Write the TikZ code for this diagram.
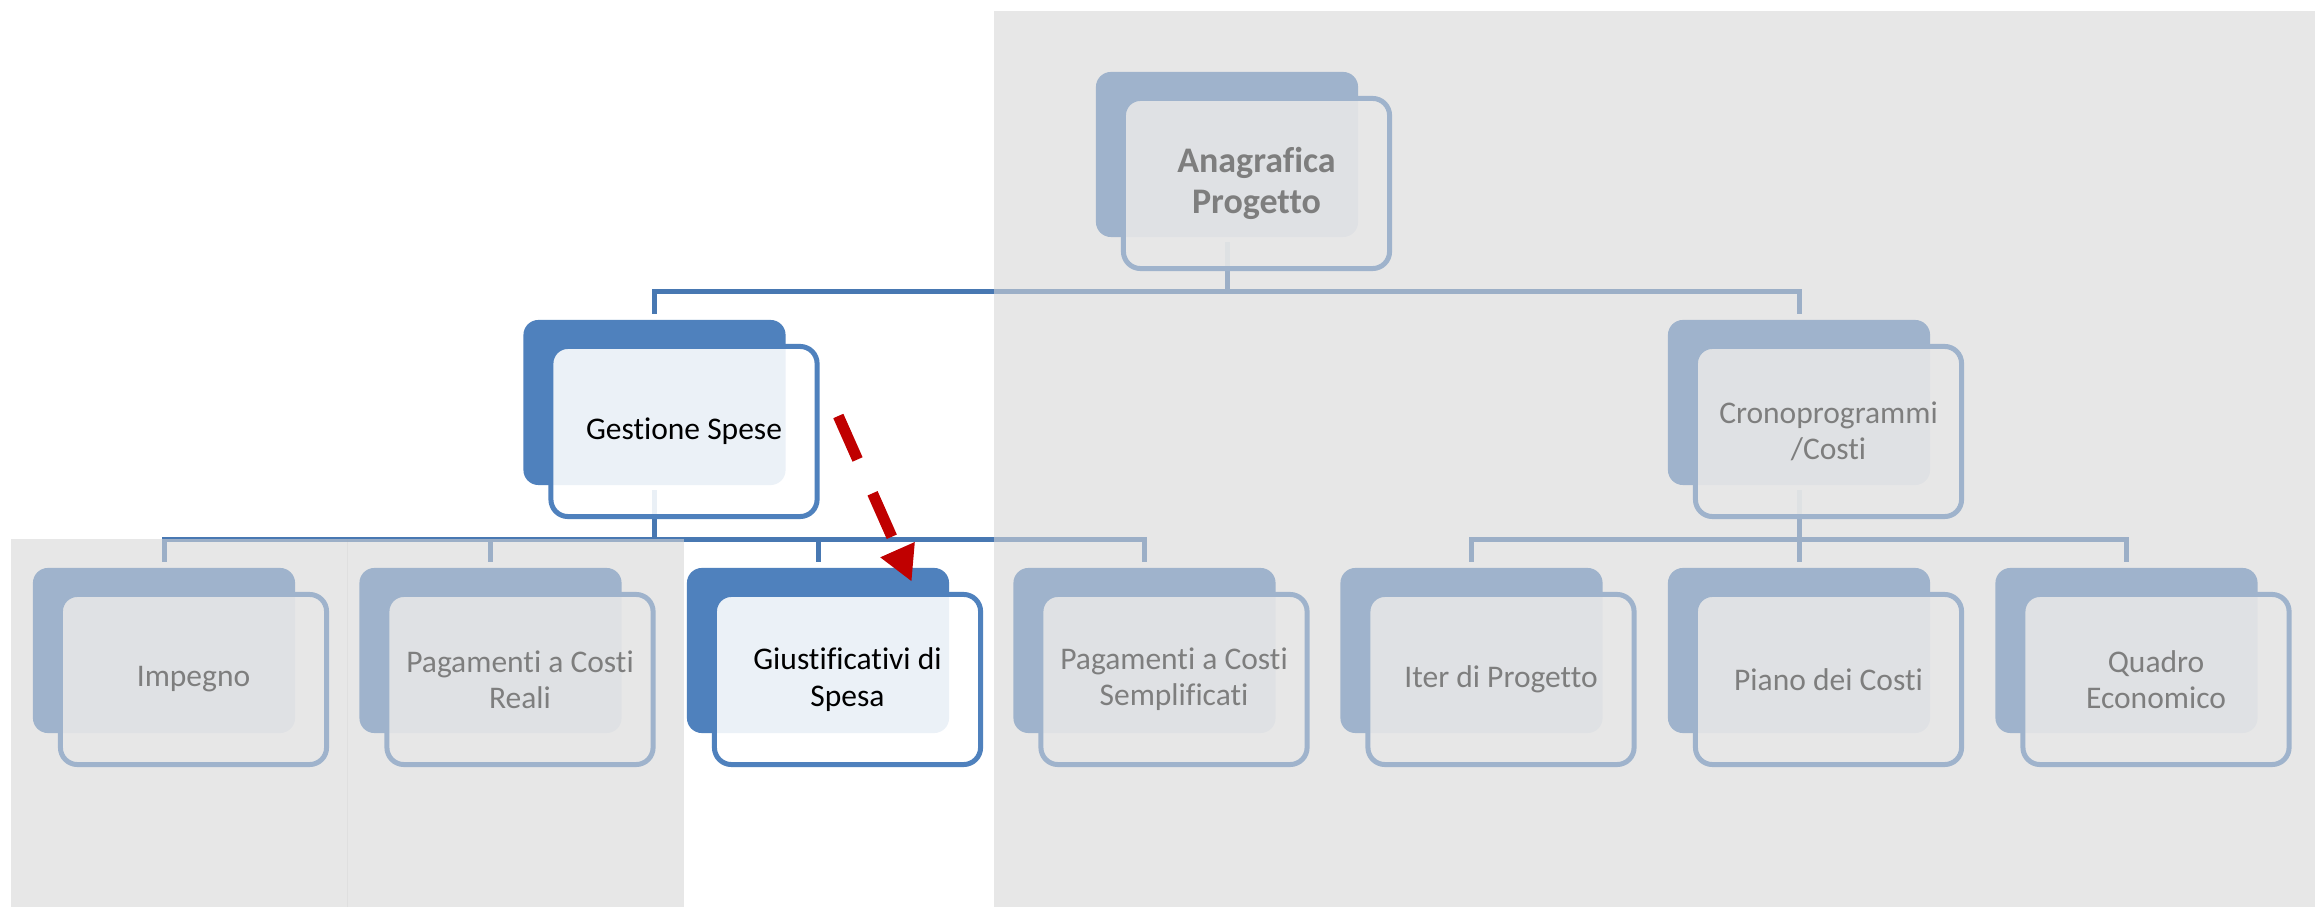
\documentclass[tikz,border=0pt]{standalone}
\usepackage{fontspec}
\setmainfont[Ligatures={NoCommon}]{Carlito}
\usetikzlibrary{arrows.meta}
\definecolor{accent}{RGB}{79,129,189}
\definecolor{connc}{RGB}{72,120,178}
\definecolor{ovl}{RGB}{215,215,215}
\definecolor{arrred}{RGB}{192,0,0}
\newcommand{\backunit}[3]{\node[backbox] (#1B) at ({#2+131},{#3+82.5}) {};}
\newcommand{\frontunit}[5][]{\node[frontbox,#1] (#2) at ({#3+160.5},{#4+111.5}) {#5};}
\tikzset{
  backbox/.style={rectangle, rounded corners=0.15cm, fill=accent, minimum width=2.62cm,
    minimum height=1.65cm, inner sep=0pt, outer sep=0pt},
  frontbox/.style={rectangle, rounded corners=0.17cm, draw=accent, line width=0.05cm,
    fill=white, fill opacity=0.89, text opacity=1, draw opacity=1,
    minimum width=2.66cm, minimum height=1.70cm, inner sep=0pt, align=center,
    font=\fontsize{8.96pt}{10.3pt}\selectfont, text=black},
  boldtext/.style={font=\bfseries\fontsize{10.24pt}{11.9pt}\selectfont},
  conn/.style={draw=connc, line width=0.05cm},
  ovlbox/.style={fill=ovl, fill opacity=0.59, draw=none},
  redarrow/.style={draw=arrred, line width=0.11cm, dash pattern=on 0.475cm off 0.37cm,
    -{Triangle[length=0.35cm,width=0.35cm]}}
}
\begin{document}
\begin{tikzpicture}[x=0.01cm,y=-0.01cm]
\useasboundingbox (0,0) rectangle (2315,907);
\fill[white] (0,0) rectangle (2315,907);
% back boxes
\backunit{anag}{1096}{72}
\backunit{gest}{523.5}{320}
\backunit{crono}{1668}{320}
\backunit{imp}{33}{568}
\backunit{reali}{359.5}{568}
\backunit{giust}{687}{568}
\backunit{sempl}{1013.5}{568}
\backunit{iter}{1340.5}{568}
\backunit{piano}{1668}{568}
\backunit{quadro}{1995.5}{568}
% connectors
\coordinate (bar1) at (0,292);
\coordinate (bar2) at (0,540);
\draw[conn] ([yshift=-0.05cm]anagB.south) -- (anagB.south |- bar1) -| ([yshift=0.06cm]gestB.north);
\draw[conn] ([yshift=-0.05cm]anagB.south) -- (anagB.south |- bar1) -| ([yshift=0.06cm]cronoB.north);
\foreach \c in {imp,reali,giust,sempl}
  \draw[conn] ([yshift=-0.05cm]gestB.south) -- (gestB.south |- bar2) -| ([yshift=0.06cm]\c B.north);
\foreach \c in {iter,piano,quadro}
  \draw[conn] ([yshift=-0.05cm]cronoB.south) -- (cronoB.south |- bar2) -| ([yshift=0.06cm]\c B.north);
% front boxes
\frontunit[boldtext]{anag}{1096}{72}{Anagrafica\\Progetto}
\frontunit{gest}{523.5}{320}{Gestione Spese}
\frontunit{crono}{1668}{320}{Cronoprogrammi\\/Costi}
\frontunit{imp}{33}{568}{Impegno}
\frontunit{reali}{359.5}{568}{Pagamenti a Costi\\Reali}
\frontunit{giust}{687}{568}{Giustificativi di\\Spesa}
\frontunit{sempl}{1013.5}{568}{Pagamenti a Costi\\Semplificati}
\frontunit{iter}{1340.5}{568}{Iter di Progetto}
\frontunit{piano}{1668}{568}{Piano dei Costi}
\frontunit{quadro}{1995.5}{568}{Quadro\\Economico}
% grey overlays
\fill[ovlbox] (994,11) rectangle (2315,907);
\fill[ovlbox] (11,539) rectangle (684,907);
\draw[ovl!80!black, draw opacity=0.12, line width=0.01cm] (347,539) -- (347,907);
% red dashed arrow
\coordinate (arrS) at (838.3,416);
\coordinate (arrE) at (911.7,581.7);
\draw[redarrow] (arrS) -- (arrE);
\end{tikzpicture}
\end{document}
